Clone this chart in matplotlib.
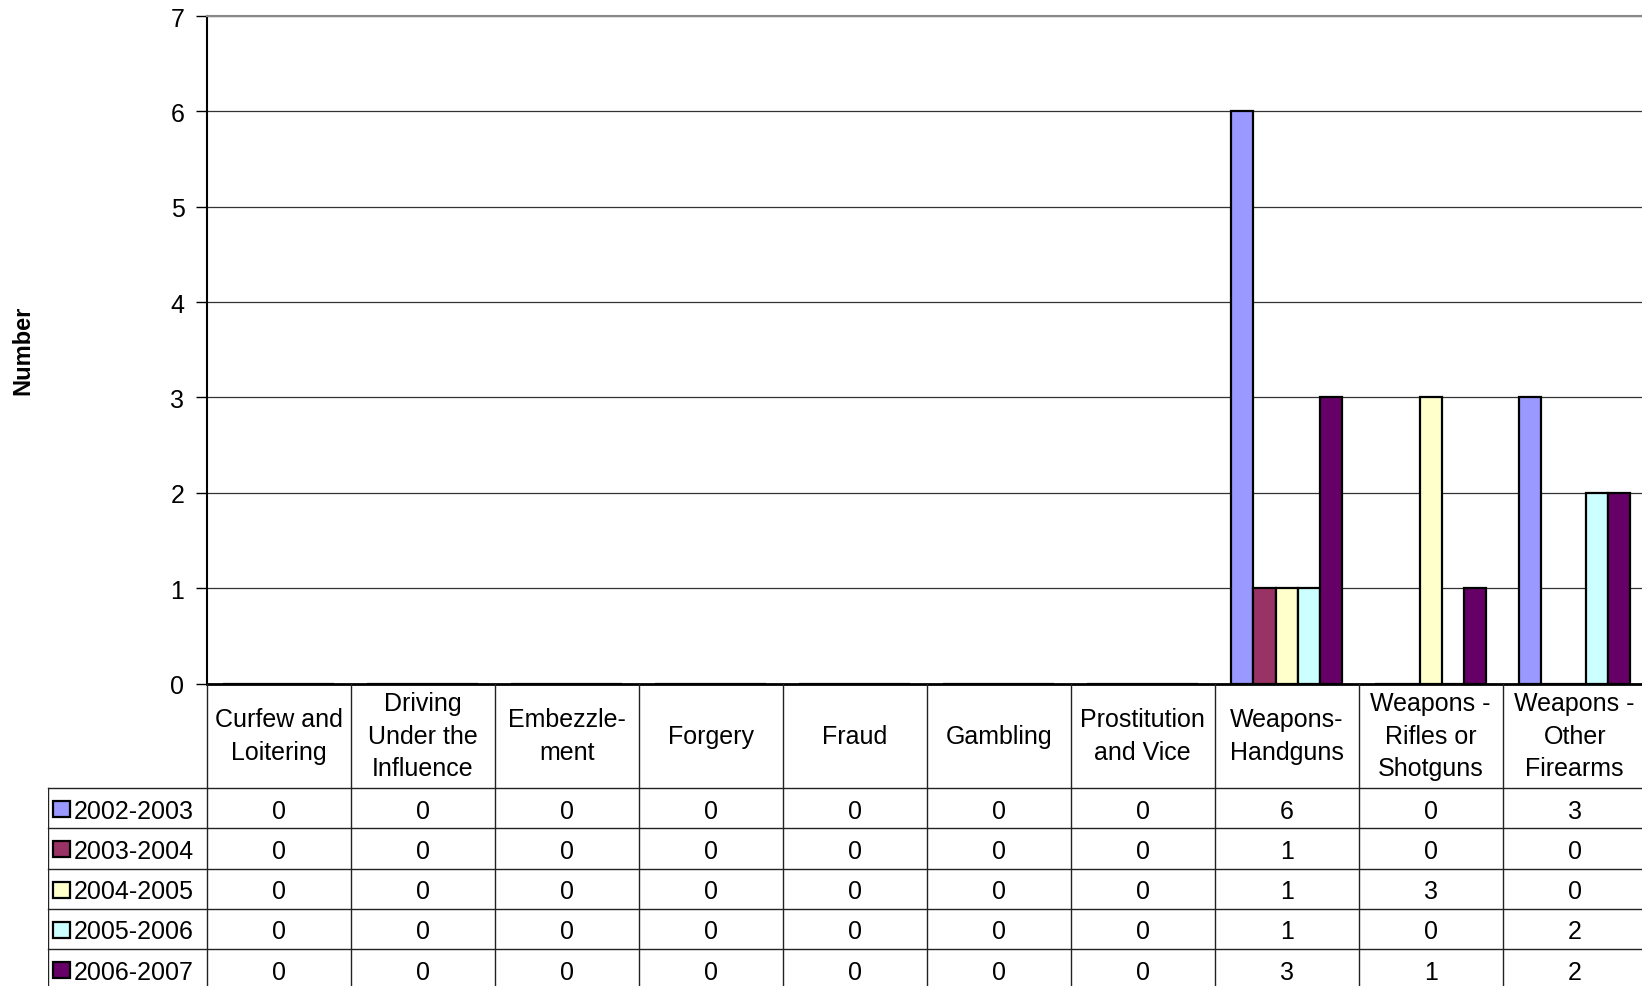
import matplotlib.pyplot as plt
from matplotlib.patches import Rectangle

plt.rcParams['font.family'] = ['Liberation Sans', 'DejaVu Sans']

# chart data
categories = ["Curfew and\nLoitering", "Driving\nUnder the\nInfluence", "Embezzle-\nment",
              "Forgery", "Fraud", "Gambling", "Prostitution\nand Vice",
              "Weapons-\nHandguns", "Weapons -\nRifles or\nShotguns", "Weapons -\nOther\nFirearms"]
series_names = ["2002-2003", "2003-2004", "2004-2005", "2005-2006", "2006-2007"]
v_2002 = [0, 0, 0, 0, 0, 0, 0, 6, 0, 3]
v_2003 = [0, 0, 0, 0, 0, 0, 0, 1, 0, 0]
v_2004 = [0, 0, 0, 0, 0, 0, 0, 1, 3, 0]
v_2005 = [0, 0, 0, 0, 0, 0, 0, 1, 0, 2]
v_2006 = [0, 0, 0, 0, 0, 0, 0, 3, 1, 2]
series_values = [v_2002, v_2003, v_2004, v_2005, v_2006]
colors = ["#9999FF", "#993366", "#FFFFCC", "#CCFFFF", "#660066"]

W, H = 1642, 987
fig = plt.figure(figsize=(W / 100, H / 100), dpi=100)

# layout in pixels
x0 = 206.7
col_w = 144.0
ncat = len(categories)
y_top = 17.0
y_zero = 684.5
leg_left = 48.0
header_h = 104.5
row_h = 40.25
fs = 18

ax = fig.add_axes([x0 / W, 1 - y_zero / H, ncat * col_w / W, (y_zero - y_top) / H])
ax.set_xlim(0, ncat)
ax.set_ylim(0, 7)

nser = len(series_names)
bw = 1 / (nser + 1.5)
for s in range(nser):
    xs = [i + 0.5 + (s - (nser - 1) / 2) * bw for i in range(ncat)]
    ax.bar(xs, series_values[s], width=bw, color=colors[s], edgecolor="black",
           linewidth=1.6, zorder=3)

ax.set_yticks(range(0, 8))
ax.tick_params(axis='y', labelsize=fs, length=8, width=1, pad=8, direction='out')
ax.set_xticks([])
ax.grid(axis='y', color='#333333', linewidth=0.9, zorder=0)
ax.spines['top'].set_color('#888888')
ax.spines['top'].set_linewidth(1.5)
ax.spines['right'].set_visible(False)
ax.spines['left'].set_linewidth(1.5)
ax.spines['bottom'].set_linewidth(2)
ax.spines['bottom'].set_zorder(5)
fig.text(23 / W, 1 - 350 / H, "Number", rotation=90, fontsize=17, fontweight='bold',
         ha='center', va='center')

# data table below the plot
tb_bottom = y_zero + header_h + row_h * nser
tab = fig.add_axes([leg_left / W, 1 - tb_bottom / H, (x0 + ncat * col_w - leg_left) / W,
                    (tb_bottom - y_zero) / H])
leg_w = (x0 - leg_left) / col_w
tab.set_xlim(-leg_w, ncat)
tab.set_ylim(tb_bottom - y_zero, 0)
tab.axis('off')

lc = '#222222'
for i in range(ncat + 1):
    tab.plot([i, i], [0, tb_bottom - y_zero], color=lc, lw=1, clip_on=False)
tab.plot([-leg_w, -leg_w], [header_h, tb_bottom - y_zero], color=lc, lw=1)
for r in range(nser + 1):
    y = header_h + r * row_h
    tab.plot([-leg_w, ncat], [y, y], color=lc, lw=1, clip_on=False)

for i, cat in enumerate(categories):
    tab.text(i + 0.5, header_h / 2, cat, ha='center', va='center', fontsize=fs,
             linespacing=1.45)

px = 1 / col_w
for s in range(nser):
    yc = header_h + (s + 0.5) * row_h
    tab.add_patch(Rectangle((-leg_w + 5 * px, yc - 7), 17 * px, 16,
                            facecolor=colors[s], edgecolor='black', lw=1.6))
    tab.text(-leg_w + 26 * px, yc, series_names[s], ha='left', va='center_baseline',
             fontsize=fs)
    for i in range(ncat):
        tab.text(i + 0.5, yc, str(series_values[s][i]), ha='center',
                 va='center_baseline', fontsize=fs)

fig.savefig("out.png", dpi=100)
